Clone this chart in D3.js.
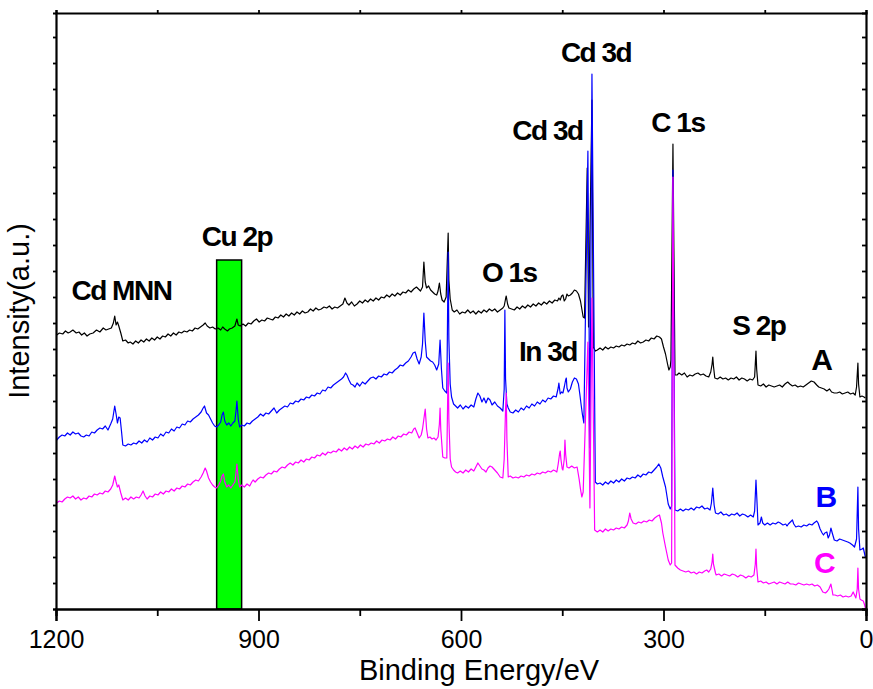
<!DOCTYPE html>
<html>
<head>
<meta charset="utf-8">
<script src="https://cdn.jsdelivr.net/npm/d3@7"></script>
<style>
body { margin: 0; background: #fff; }
text { font-family: "Liberation Sans", Arial, sans-serif; }
</style>
</head>
<body>
<div id="chart"></div>
<script>
// XPS survey spectra, [binding energy (eV), intensity (a.u.)]
var seriesA = [
[1199,274],[1195,276],[1190,275],[1186,278],[1182,276],[1179,277],[1175,279],[1170,276],[1166,277],[1162,274],
[1158,276],[1154,273],[1150,275],[1145,276],[1140,279],[1135,277],[1130,281],[1126,279],[1122,280],[1118,281],
[1115,286],[1113,293],[1111,284],[1109,287],[1107,283],[1104,276],[1101,268],[1097,269],[1093,266],[1090,267],
[1086,265],[1082,268],[1078,266],[1074,269],[1070,267],[1066,270],[1062,268],[1058,271],[1054,269],[1050,272],
[1046,270],[1042,273],[1038,272],[1034,275],[1030,273],[1026,276],[1022,274],[1018,277],[1014,276],[1010,278],
[1006,277],[1002,279],[998,278],[994,281],[990,280],[986,282],[982,284],[979,286],[976,283],[972,281],
[968,282],[964,280],[960,281],[956,279],[953,282],[950,280],[946,278],[943,280],[939,281],[935,283],
[932,290],[930,284],[927,283],[923,285],[919,283],[915,286],[911,285],[907,288],[903,290],[899,287],
[895,289],[891,288],[887,291],[883,290],[879,289],[875,292],[871,291],[867,294],[863,292],[859,295],
[855,293],[851,296],[847,294],[843,297],[839,295],[835,298],[831,296],[827,297],[823,300],[819,298],
[815,301],[811,299],[807,300],[803,302],[799,301],[795,303],[791,300],[787,302],[783,301],[779,303],
[775,305],[772,311],[769,306],[766,304],[762,307],[758,303],[754,305],[750,308],[746,306],[742,309],
[738,307],[734,310],[730,308],[726,311],[722,309],[718,312],[714,311],[710,314],[706,312],[702,315],
[698,313],[694,316],[690,314],[686,317],[682,316],[678,319],[674,317],[670,320],[666,322],[663,320],
[660,318],[657,322],[655,347],[653,327],[651,321],[648,323],[645,319],[642,317],[639,315],[636,314],
[634,318],[632,326],[630,315],[628,309],[625,307],[622,312],[619,376],[618,329],[616,310],[613,299],
[610,297],[606,299],[602,295],[598,297],[594,296],[590,299],[586,296],[582,298],[578,295],[574,298],
[570,296],[566,299],[562,297],[558,300],[554,298],[550,300],[546,297],[542,299],[538,301],[536,303],
[534,310],[533,313],[531,305],[529,301],[525,300],[521,299],[517,302],[513,300],[509,303],[505,301],
[501,304],[497,302],[493,305],[489,303],[485,306],[481,304],[477,307],[473,305],[469,308],[465,306],
[461,309],[457,308],[455,311],[453,309],[451,313],[449,314],[447,308],[445,310],[443,315],[441,313],
[438,314],[435,316],[432,319],[429,318],[426,315],[423,308],[421,300],[419,292],[417,291],[413,441],
[411,282],[406,509],[404,262],[401,258],[398,259],[394,261],[390,259],[386,262],[382,260],[378,262],
[374,261],[370,263],[366,262],[362,264],[358,263],[354,265],[350,264],[346,266],[342,265],[338,268],
[334,266],[330,267],[326,269],[322,268],[318,271],[314,270],[310,273],[306,272],[303,270],[300,262],
[297,255],[294,245],[292,239],[290,242],[289,249],[286,465],[283,234],[280,234],[277,236],[273,234],
[269,236],[265,232],[261,234],[257,233],[253,235],[249,236],[245,234],[241,235],[237,233],[233,232],
[230,237],[228,245],[227,252],[226,243],[224,231],[220,230],[216,232],[212,230],[208,231],[204,229],
[200,231],[196,230],[192,232],[188,229],[184,231],[180,230],[176,228],[172,230],[168,229],[165,232],
[164,245],[163,258],[162,240],[160,224],[156,223],[152,225],[148,222],[144,224],[140,223],[136,222],
[132,223],[128,224],[124,222],[120,225],[116,227],[113,225],[109,223],[105,224],[101,222],[97,223],
[93,222],[89,224],[85,226],[81,228],[77,227],[73,224],[70,222],[66,221],[62,220],[58,218],
[54,220],[51,217],[47,216],[43,216],[39,217],[35,215],[31,216],[27,217],[23,215],[19,216],
[16,214],[14,222],[12,246],[11,225],[9,212],[6,213],[3,212],[1,211]
];
var seriesB = [
[1199,169],[1195,172],[1191,174],[1187,173],[1183,176],[1179,174],[1175,177],[1171,175],[1167,176],[1163,173],
[1159,172],[1155,174],[1151,173],[1147,177],[1143,176],[1139,179],[1135,181],[1131,180],[1127,183],[1123,179],
[1119,185],[1116,190],[1113,203],[1111,195],[1109,186],[1107,192],[1105,191],[1103,178],[1101,164],[1097,163],
[1093,165],[1089,164],[1085,166],[1081,165],[1077,168],[1073,166],[1069,169],[1065,167],[1061,171],[1057,169],
[1053,172],[1049,171],[1045,175],[1041,173],[1037,177],[1033,176],[1029,180],[1025,178],[1021,182],[1017,181],
[1013,185],[1009,184],[1005,188],[1001,187],[997,190],[993,192],[989,194],[985,197],[982,201],[980,203],
[977,196],[974,194],[971,190],[968,186],[965,183],[962,182],[959,184],[956,187],[954,194],[952,197],
[950,188],[947,184],[944,186],[941,183],[938,186],[935,188],[933,200],[932,208],[930,190],[928,182],
[925,184],[921,183],[917,186],[913,185],[909,188],[905,190],[901,192],[897,195],[893,193],[889,196],
[885,195],[881,198],[877,201],[873,196],[869,199],[865,201],[861,203],[857,202],[853,206],[849,205],
[845,208],[841,207],[837,210],[833,209],[829,212],[825,211],[821,214],[817,213],[813,216],[809,215],
[805,219],[801,218],[797,222],[793,221],[789,224],[785,226],[781,228],[777,230],[774,232],[771,236],
[769,234],[766,229],[763,225],[760,224],[757,222],[754,226],[750,223],[746,227],[742,225],[738,228],
[734,231],[730,232],[726,230],[722,233],[718,232],[714,235],[710,234],[706,237],[702,236],[698,239],
[694,241],[690,244],[686,243],[682,246],[678,248],[674,252],[671,256],[668,257],[665,250],[662,245],
[659,252],[657,265],[655,296],[653,268],[651,252],[648,250],[645,248],[642,247],[639,244],[636,239],
[633,245],[631,269],[629,240],[627,221],[624,218],[621,216],[619,357],[618,270],[616,225],[614,212],
[611,205],[608,203],[605,201],[601,204],[597,200],[593,203],[589,201],[585,204],[581,202],[578,210],
[575,216],[572,213],[569,207],[566,211],[563,206],[560,211],[557,209],[554,204],[550,207],[546,203],
[542,201],[538,198],[536,220],[535,299],[534,230],[532,205],[530,201],[527,197],[523,196],[519,199],
[515,197],[511,201],[507,199],[503,203],[499,201],[495,205],[491,203],[487,207],[483,205],[479,209],
[475,207],[471,211],[467,210],[463,213],[459,212],[456,221],[455,226],[453,215],[451,217],[449,216],
[447,222],[445,229],[444,231],[443,221],[441,217],[438,220],[435,227],[432,231],[429,230],[426,225],
[424,215],[422,204],[420,194],[418,186],[412,458],[409,161],[406,535],[401,127],[398,125],[394,126],
[390,124],[386,127],[382,125],[378,128],[374,126],[370,129],[366,127],[362,130],[358,128],[354,131],
[350,130],[346,132],[342,131],[338,134],[334,132],[330,135],[326,134],[322,137],[318,136],[314,139],
[310,142],[307,145],[304,141],[301,132],[297,122],[293,105],[290,100],[288,103],[286,439],[283,99],
[279,98],[275,100],[271,98],[267,100],[263,99],[259,101],[255,99],[251,102],[247,101],[243,103],
[239,100],[235,101],[231,99],[229,106],[227,121],[225,104],[223,96],[219,95],[215,97],[211,94],
[207,95],[203,93],[199,95],[195,94],[191,96],[187,93],[183,95],[179,94],[175,92],[171,94],
[167,92],[165,98],[163,129],[161,100],[160,84],[157,86],[155,92],[153,86],[150,84],[146,86],
[142,84],[138,86],[134,85],[130,87],[127,86],[123,84],[119,85],[117,83],[115,85],[112,87],
[109,89],[107,85],[104,82],[100,83],[96,82],[92,84],[88,83],[84,85],[80,84],[77,86],
[73,88],[71,86],[68,80],[65,76],[63,74],[61,76],[58,77],[56,71],[54,74],[52,81],
[50,76],[47,69],[43,68],[39,70],[35,69],[31,68],[27,67],[24,66],[20,64],[17,62],
[14,70],[12,122],[11,80],[9,59],[6,60],[4,61],[2,55],[1,52]
];
var seriesC = [
[1199,106],[1195,108],[1191,107],[1187,110],[1183,112],[1179,111],[1175,113],[1171,110],[1167,112],[1163,109],
[1159,111],[1155,110],[1151,113],[1147,112],[1143,115],[1139,114],[1135,116],[1131,115],[1127,118],[1123,117],
[1119,120],[1116,124],[1113,133],[1111,127],[1109,122],[1107,124],[1104,116],[1101,109],[1097,111],[1093,109],
[1089,112],[1085,110],[1081,112],[1077,111],[1074,114],[1071,118],[1068,113],[1065,110],[1061,113],[1057,112],
[1053,115],[1049,114],[1045,117],[1041,115],[1037,118],[1033,117],[1029,120],[1025,118],[1021,121],[1017,120],
[1013,123],[1009,122],[1005,125],[1001,124],[997,127],[993,129],[989,128],[985,132],[982,136],[979,141],
[977,138],[974,131],[971,127],[968,124],[965,122],[962,121],[959,124],[956,128],[954,133],[952,135],
[950,127],[947,122],[944,124],[941,121],[938,124],[935,127],[933,138],[932,145],[930,130],[928,122],
[925,124],[921,122],[917,125],[913,123],[910,127],[908,129],[905,127],[901,130],[897,132],[893,131],
[889,134],[885,136],[881,135],[877,138],[873,137],[869,140],[865,142],[861,141],[857,144],[853,146],
[849,144],[845,147],[841,146],[837,149],[833,147],[829,150],[825,149],[821,152],[817,151],[813,154],
[809,153],[805,156],[801,154],[797,157],[793,156],[789,158],[785,157],[781,160],[777,158],[773,161],
[769,159],[765,162],[761,160],[757,163],[753,161],[749,164],[745,162],[741,165],[737,164],[733,166],
[729,165],[725,168],[721,166],[717,169],[713,168],[709,170],[705,169],[701,172],[697,170],[693,173],
[689,172],[685,175],[681,174],[677,177],[673,176],[670,180],[668,181],[665,176],[662,171],[659,174],
[657,180],[655,190],[653,200],[651,180],[649,171],[646,172],[643,170],[640,171],[637,169],[634,172],
[632,185],[631,201],[630,180],[627,152],[624,151],[621,151],[619,246],[618,190],[616,150],[614,142],
[611,139],[608,137],[605,136],[601,138],[597,136],[593,139],[589,137],[585,140],[581,138],[578,142],
[575,146],[572,143],[569,140],[566,139],[563,137],[560,141],[557,143],[554,142],[550,139],[546,136],
[542,132],[538,131],[536,150],[534,200],[533,216],[532,170],[530,132],[527,133],[523,131],[519,132],
[515,131],[511,133],[507,132],[503,134],[499,133],[495,135],[491,134],[487,136],[483,135],[479,137],
[475,136],[471,138],[467,137],[463,139],[460,138],[458,137],[456,145],[454,155],[453,158],[452,150],
[450,140],[449,139],[447,150],[446,169],[445,155],[443,142],[440,141],[436,143],[432,141],[428,142],
[425,130],[423,120],[421,112],[419,117],[412,267],[409,101],[406,311],[402,79],[398,77],[394,79],
[390,77],[386,80],[382,78],[378,80],[374,79],[370,81],[366,80],[362,82],[358,81],[354,84],
[352,88],[350,96],[348,90],[345,86],[341,85],[337,87],[333,86],[329,88],[325,87],[321,89],
[317,88],[313,91],[309,93],[306,94],[303,86],[301,76],[297,62],[293,49],[290,44],[288,46],
[286,432],[283,44],[279,41],[275,39],[271,38],[267,37],[263,38],[259,36],[255,37],[251,35],
[247,37],[243,36],[239,38],[236,39],[233,37],[230,40],[228,47],[227,55],[226,45],[223,36],
[222,34],[218,35],[214,33],[210,35],[206,34],[202,33],[198,35],[194,34],[190,32],[186,34],
[182,33],[178,31],[174,33],[170,32],[166,34],[164,45],[163,60],[162,42],[160,27],[156,28],
[152,26],[148,27],[144,25],[140,26],[136,27],[132,25],[128,27],[124,26],[120,25],[116,27],
[112,25],[108,25],[104,24],[100,26],[96,25],[92,24],[88,25],[84,24],[80,25],[76,23],
[72,24],[68,22],[64,17],[60,16],[57,18],[55,20],[52,25],[50,18],[49,14],[46,14],
[42,13],[38,14],[34,12],[30,13],[26,12],[22,13],[19,17],[17,14],[15,11],[13,20],
[12,41],[11,20],[9,10],[7,9],[4,8],[2,4],[1,1]
];
var seriesNames = ["A", "B", "C"];
var seriesColors = ["#000000", "#0000ff", "#ff00ff"];

var majorTicks = [1200, 900, 600, 300, 0];
var minorTicks = [1050, 750, 450, 150];
var yTicks = d3.range(0, 597, 26);

// Cu 2p region (eV) and its top (a.u.)
var cuBand = [962, 925];
var cuBandTop = 349;

var peakLabels = ["Cd MNN", "Cu 2p", "O 1s", "In 3d", "Cd 3d", "Cd 3d", "C 1s", "S 2p"];
var peakLabelAt = [[1177, 309], [984, 363], [569, 327], [514, 248], [524, 469], [452, 547], [318, 477], [198, 274]];
var nameLabelAt = [[81, 239], [75, 102], [77, 36]];

var margin = { top: 13, right: 7, bottom: 80, left: 56 };
var width = 873 - margin.left - margin.right;
var height = 689 - margin.top - margin.bottom;

var x = d3.scaleLinear().domain([1200, 0]).range([0, width]);
var y = d3.scaleLinear().domain([0, 596]).range([height, 0]);

var svg = d3.select("#chart").append("svg")
    .attr("width", 873)
    .attr("height", 689)
    .append("g")
    .attr("transform", "translate(" + margin.left + "," + margin.top + ")");

// green Cu 2p band
svg.append("rect")
    .attr("x", x(cuBand[0]))
    .attr("y", y(cuBandTop))
    .attr("width", x(cuBand[1]) - x(cuBand[0]))
    .attr("height", y(0) - y(cuBandTop))
    .attr("fill", "#00ff00")
    .attr("stroke", "#000")
    .attr("stroke-width", 1.5);

var line = d3.line()
    .x(function (d) { return x(d[0]); })
    .y(function (d) { return y(d[1]); });

[seriesA, seriesB, seriesC].forEach(function (s, i) {
    svg.append("path")
        .datum(s)
        .attr("fill", "none")
        .attr("stroke", seriesColors[i])
        .attr("stroke-width", 1.2)
        .attr("stroke-linejoin", "round")
        .attr("d", line);
});

// axes
var bottom = svg.append("g")
    .attr("transform", "translate(0," + height + ")")
    .call(d3.axisBottom(x).tickValues(majorTicks).tickSize(12).tickPadding(9).tickFormat(d3.format("d")));
bottom.selectAll("text").attr("font-size", 25).attr("fill", "#000").style("font-family", '"Liberation Sans", Arial, sans-serif');
svg.append("g")
    .attr("transform", "translate(0," + height + ")")
    .call(d3.axisBottom(x).tickValues(minorTicks).tickSize(7).tickFormat(""));
svg.append("g")
    .call(d3.axisTop(x).tickValues(majorTicks.concat(minorTicks)).tickSize(3).tickFormat(""));
svg.append("g")
    .call(d3.axisLeft(y).tickValues(yTicks).tickSize(3).tickFormat(""));
svg.append("g")
    .attr("transform", "translate(" + width + ",0)")
    .call(d3.axisRight(y).tickValues(yTicks).tickSize(-4).tickFormat(""));

svg.selectAll(".domain").attr("stroke", "#000").attr("stroke-width", 2.2);
svg.selectAll(".tick line").attr("stroke", "#000").attr("stroke-width", 1.8);

// axis titles
svg.append("text")
    .attr("x", 423)
    .attr("y", 667)
    .attr("text-anchor", "middle")
    .attr("font-size", 29)
    .text("Binding Energy/eV");
svg.append("text")
    .attr("transform", "translate(-27," + (height / 2) + ") rotate(-90)")
    .attr("text-anchor", "middle")
    .attr("font-size", 29)
    .text("Intensity(a.u.)");

// peak labels
svg.selectAll(".peak")
    .data(peakLabels)
    .enter().append("text")
    .attr("class", "peak")
    .attr("x", function (d, i) { return x(peakLabelAt[i][0]); })
    .attr("y", function (d, i) { return y(peakLabelAt[i][1]); })
    .attr("font-size", 28)
    .attr("font-weight", "bold")
    .attr("letter-spacing", "-1.5px")
    .text(function (d) { return d; });

svg.selectAll(".name")
    .data(seriesNames)
    .enter().append("text")
    .attr("class", "name")
    .attr("x", function (d, i) { return x(nameLabelAt[i][0]); })
    .attr("y", function (d, i) { return y(nameLabelAt[i][1]); })
    .attr("font-size", 30)
    .attr("font-weight", "bold")
    .attr("fill", function (d, i) { return seriesColors[i]; })
    .text(function (d) { return d; });
</script>
</body>
</html>
